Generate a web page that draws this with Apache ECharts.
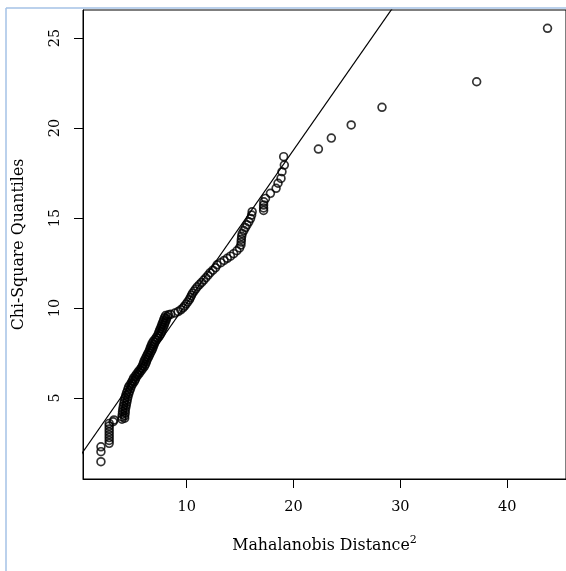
<!DOCTYPE html>
<html><head><meta charset="utf-8">
<script src="https://cdn.jsdelivr.net/npm/echarts@6/dist/echarts.min.js"></script>
<style>html,body{margin:0;padding:0;background:#fff}#c{width:566px;height:571px}</style>
</head><body><div id="c"></div>
<script>
// Mahalanobis distance^2 (x) and chi-square quantiles (y)
const distX = [
  1.98,1.98,1.98,
  2.75,2.75,2.75,2.75,2.75,2.75,2.75,2.75,3.12,3.2,
  3.95,4.2,3.95,4.2,3.98,4.25,4.0,4.25,4.03,4.3,4.08,4.35,4.13,4.4,4.18,4.45,4.23,4.5,4.3,4.57,4.38,4.65,4.48,4.75,4.56,4.83,4.68,4.95,4.83,5.1,4.93,5.2,5.03,5.3,5.18,5.45,5.33,5.6,5.48,5.75,5.63,5.9,5.78,6.05,5.88,6.15,5.96,6.23,6.03,6.3,6.13,6.4,6.23,6.5,6.33,6.6,6.43,6.7,6.53,6.8,6.6,6.87,6.68,6.95,6.76,7.03,6.88,7.15,7.03,7.3,7.18,7.45,7.3,7.57,7.38,7.65,7.46,7.73,7.54,7.81,7.63,7.9,7.7,7.97,7.78,8.05,7.85,8.12,7.93,8.2,8.03,8.3,
  8.5,8.9,9.2,9.45,9.65,9.8,9.95,10.1,10.25,10.35,10.45,10.55,10.7,10.85,11.0,11.2,11.4,11.6,11.8,12.0,12.2,12.45,12.7,12.85,13.2,13.5,13.8,14.1,14.4,14.7,14.95,
  15.08,15.1,15.12,15.15,15.2,15.35,15.5,15.65,15.82,15.98,16.08,16.13,
  17.2,17.2,17.2,17.22,17.38,17.84,18.37,18.55,18.83,18.92,19.14,19.08,
  22.33,23.54,25.4,28.28,37.14,43.77
];
const chiY = [
  1.46,2.02,2.29,
  2.48,2.64,2.8,2.96,3.12,3.28,3.44,3.59,3.68,3.78,
  3.82,3.88,3.95,4.01,4.1,4.16,4.25,4.31,4.4,4.46,4.55,4.61,4.7,4.76,4.85,4.91,5.0,5.06,5.15,5.21,5.3,5.36,5.45,5.51,5.6,5.66,5.72,5.78,5.85,5.91,5.97,6.03,6.1,6.16,6.22,6.28,6.34,6.4,6.46,6.52,6.58,6.64,6.7,6.76,6.82,6.88,6.94,7.0,7.06,7.12,7.18,7.24,7.3,7.36,7.42,7.48,7.54,7.6,7.66,7.72,7.78,7.84,7.9,7.96,8.02,8.08,8.14,8.2,8.26,8.32,8.38,8.44,8.5,8.56,8.62,8.68,8.74,8.8,8.86,8.92,8.98,9.04,9.1,9.16,9.22,9.28,9.34,9.4,9.46,9.52,9.58,9.62,
  9.65,9.72,9.8,9.9,10.0,10.1,10.22,10.34,10.46,10.58,10.7,10.82,10.94,11.06,11.18,11.3,11.42,11.55,11.68,11.82,11.96,12.1,12.24,12.4,12.52,12.64,12.76,12.88,13.02,13.18,13.34,
  13.5,13.66,13.82,13.98,14.14,14.3,14.47,14.62,14.79,14.97,15.16,15.35,
  15.42,15.56,15.72,15.9,16.09,16.37,16.65,16.93,17.2,17.57,17.94,18.41,
  18.83,19.44,20.17,21.15,22.57,25.54
];
// reference line endpoints (clipped by the plot box)
const lineX = [0, 31];
const lineY = [1.756, 28.14];
const xTicks = [10, 20, 30, 40];
const yTicks = [5, 10, 15, 20, 25];

const pts = distX.map((x, i) => [x, chiY[i]]);
const font = 'DejaVu Serif';
const chart = echarts.init(document.getElementById('c'), null, {renderer: 'canvas'});
chart.setOption({
  animation: false,
  backgroundColor: '#fff',
  grid: {left: 83, top: 10, width: 486.2, height: 469, show: true, borderColor: '#000', borderWidth: 1, containLabel: false},
  xAxis: {
    type: 'value', min: 0.3, max: 45.5,
    axisLine: {show: true, onZero: false, lineStyle: {color: '#000', width: 1}},
    axisTick: {show: true, customValues: xTicks, length: 9, lineStyle: {color: '#000', width: 1}},
    axisLabel: {customValues: xTicks, margin: 21, color: '#000', fontFamily: font, fontSize: 14.5},
    splitLine: {show: false},
    name: 'Mahalanobis Distance{s|2}', nameLocation: 'middle', nameGap: 56,
    nameTextStyle: {color: '#000', fontFamily: font, fontSize: 15.8, rich: {s: {fontSize: 11, verticalAlign: 'top', fontFamily: font, color: '#000', padding: [0,0,10,0]}}}
  },
  yAxis: {
    type: 'value', min: 0.5, max: 26.556,
    axisLine: {show: true, onZero: false, lineStyle: {color: '#000', width: 1}},
    axisTick: {show: true, customValues: yTicks, length: 9, lineStyle: {color: '#000', width: 1}},
    axisLabel: {customValues: yTicks, rotate: 90, margin: 20, color: '#000', fontFamily: font, fontSize: 14.5},
    splitLine: {show: false},
    name: 'Chi-Square Quantiles', nameLocation: 'middle', nameGap: 56,
    nameTextStyle: {color: '#000', fontFamily: font, fontSize: 15.8}
  },
  series: [
    {type: 'line', data: lineX.map((x, i) => [x, lineY[i]]), symbol: 'none', clip: true,
     lineStyle: {color: '#000', width: 1.2}, z: 3},
    {type: 'scatter', data: pts, symbol: 'circle', symbolSize: 7.8, clip: true,
     itemStyle: {color: 'rgba(0,0,0,0)', borderColor: '#000', borderWidth: 1.7}, z: 4}
  ],
  graphic: [
    {type: 'line', shape: {x1: 6, y1: 8, x2: 566, y2: 8}, style: {stroke: '#a4c2e6', lineWidth: 1.5}},
    {type: 'line', shape: {x1: 6, y1: 8, x2: 6, y2: 571}, style: {stroke: '#a4c2e6', lineWidth: 1.5}}
  ]
});
</script></body></html>
